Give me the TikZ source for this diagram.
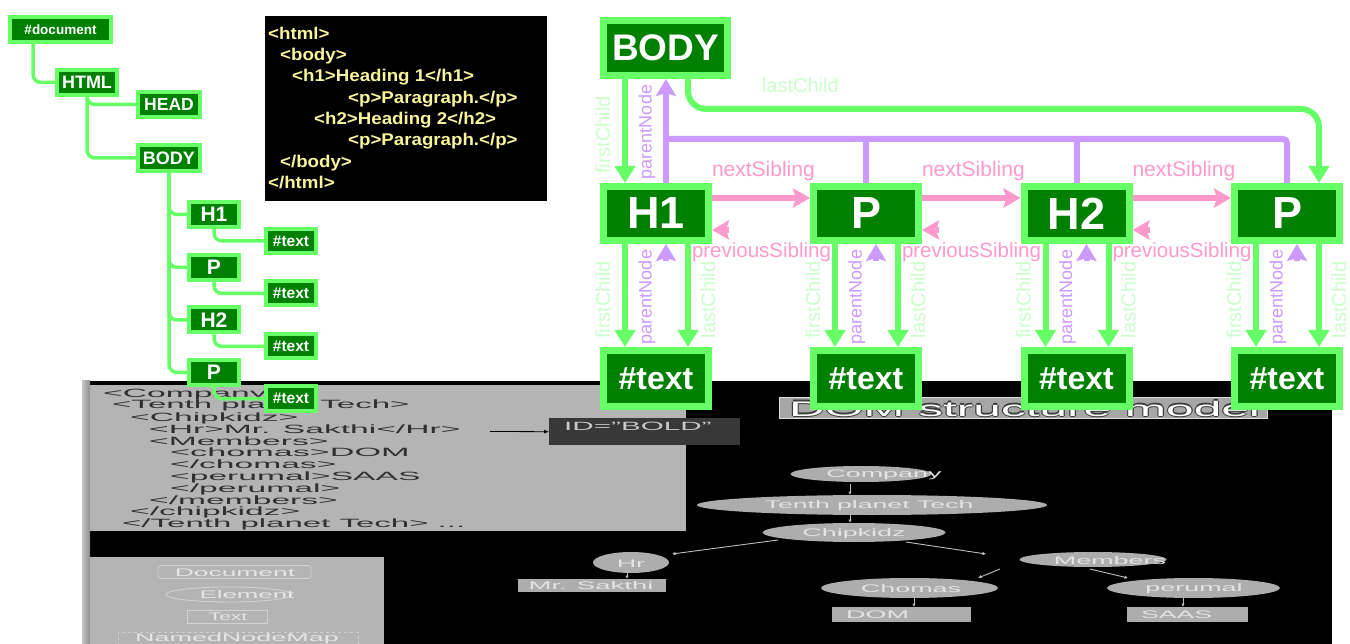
\documentclass[tikz,border=0pt]{standalone}
\usepackage{graphicx}
\usepackage{fontspec}
\setmainfont{Liberation Sans}
\usetikzlibrary{arrows.meta,shapes.geometric}
\definecolor{dg}{HTML}{008000}
\definecolor{lg}{HTML}{66FF66}
\definecolor{pg}{HTML}{CCFFCC}
\definecolor{pu}{HTML}{CC99FF}
\definecolor{pk}{HTML}{FF99CC}
\definecolor{cy}{HTML}{F8F49C}
\definecolor{pan}{HTML}{B4B4B4}
\definecolor{ctx}{HTML}{303030}
\definecolor{ellc}{HTML}{ADADAD}
\definecolor{etx}{HTML}{E4E4E4}
\definecolor{idb}{HTML}{383838}
\definecolor{idt}{HTML}{C8C8C8}
\definecolor{edgec}{HTML}{BEBEBE}
\definecolor{legc}{HTML}{D2D2D2}
\definecolor{legt}{HTML}{E6E6E6}
\definecolor{ttl}{HTML}{A6A6A6}
\definecolor{ttlo}{HTML}{3C3C3C}
\newcommand\myfs[1]{\fontsize{#1}{#1}\selectfont}
\newcommand\myx[2]{\scalebox{#1}[1]{#2}}
\begin{document}
\begin{tikzpicture}[x=1pt,y=-1pt,
  lbox/.style={draw=lg,fill=dg,line width=4pt,outer sep=2pt,inner sep=0pt,text=white,font=\bfseries\myfs{18}},
  ltxt/.style={lbox,minimum width=50pt,minimum height=24pt,font=\bfseries\myfs{15.5}},
  lsm/.style={lbox,minimum width=50pt,minimum height=25pt,font=\bfseries\myfs{21}},
  lconn/.style={draw=lg,line width=3.5pt,rounded corners=8pt},
  rbox/.style={draw=lg,fill=dg,line width=7pt,outer sep=3.5pt,inner sep=0pt,text=white,minimum width=105pt,minimum height=54pt,font=\bfseries\myfs{45}},
  rtxt/.style={rbox,minimum height=56pt,font=\bfseries\myfs{32}},
  garrow/.style={draw=lg,line width=6pt,-{Triangle[width=20pt,length=17pt]}},
  parrow/.style={draw=pu,line width=6pt,-{Stealth[width=20pt,length=17pt,inset=3pt]}},
  pline/.style={draw=pu,line width=6pt},
  karrow/.style={draw=pk,line width=6pt,-{Stealth[width=19pt,length=17pt,inset=3pt]}},
  lab/.style={inner sep=0pt,outer sep=0pt},
  ctext/.style={anchor=base west,inner sep=0pt,text=ctx,font=\myfs{12}},
  code/.style={anchor=base west,inner sep=0pt,text=cy,font=\bfseries\myfs{17}},
  ell/.style={ellipse,fill=ellc,inner sep=0pt,outer sep=0pt},
  gbox/.style={rectangle,fill=ellc,inner sep=0pt},
  etxt/.style={inner sep=0pt,text=etx,font=\myfs{11}},
  tedge/.style={draw=edgec,line width=0.9pt,-{Latex[length=3.5pt,width=3.5pt]}},
  legl/.style={draw=legc,line width=0.8pt,inner sep=0pt},
  legtx/.style={inner sep=0pt,text=legt,font=\myfs{11}},
]
\fill[white] (0,0) rectangle (1350,644);
\useasboundingbox (0,0) rectangle (1350,644);

% ---------- bottom screenshot ----------
\fill[black] (82,381) rectangle (1332,644);
\shade[left color=gray!45,right color=gray!90] (82,381) rectangle (90,644);
\fill[pan] (90,385) rectangle (686,531);
\fill[pan] (90,557) rectangle (384,644);

\node[ctext] (x1) at (103,397) {\myx{2.8}{<Company>}};
\node[ctext] (x2) at (112,409) {\myx{2.75}{<Tenth planet Tech>}};
\node[ctext] (x3) at (130,421) {\myx{2.8}{<Chipkidz>}};
\node[ctext] (x4) at (149,433) {\myx{2.8}{<Hr>Mr. Sakthi</Hr>}};
\node[ctext] (x5) at (149,445) {\myx{2.8}{<Members>}};
\node[ctext] (x6) at (170,456) {\myx{2.85}{<chomas>DOM}};
\node[ctext] (x7) at (170,468) {\myx{2.8}{</chomas>}};
\node[ctext] (x8) at (170,480) {\myx{2.8}{<perumal>SAAS}};
\node[ctext] (x9) at (170,492) {\myx{2.8}{</perumal>}};
\node[ctext] (x10) at (149,504) {\myx{2.8}{</members>}};
\node[ctext] (x11) at (130,515) {\myx{2.8}{</chipkidz>}};
\node[ctext] (x12) at (122,527) {\myx{2.75}{</Tenth planet Tech> ...}};

\node[fill=idb,minimum width=191pt,minimum height=27pt,inner sep=0pt,anchor=north west] (idbox) at (549,418) {};
\node[etxt,text=idt,font=\myfs{12},anchor=base west] (idtext) at (564,430) {\myx{2.47}{ID="BOLD"}};
\coordinate (hrend) at (490,431.5);
\draw[-{Latex[length=5pt,width=4pt]},line width=0.8pt,black] (hrend) -- (idbox.west);

% title
\node[fill=ttl,draw=gray!25,line width=0.8pt,minimum width=488pt,minimum height=21pt,inner sep=0pt] (title) at (1023,407.5) {};
\foreach \dx/\dy [count=\i] in {-1.2/0,1.2/0,0/-1.2,0/1.2}{
  \node[inner sep=0pt,text=ttlo,font=\myfs{21}] (tsh\i) at (1024.5+\dx,408.5+\dy) {\myx{2.36}{DOM structure model}};
}
\node[inner sep=0pt,text=white,font=\myfs{21}] (ttext) at (1024.5,408.5) {\myx{2.36}{DOM structure model}};

% grey tree
\node[ell,minimum width=141pt,minimum height=16pt] (ecomp) at (861,474) {};
\node[etxt] (tcomp) at (884,475) {\myx{2.45}{Company}};
\node[ell,minimum width=350pt,minimum height=20pt] (etenth) at (872,505) {};
\node[etxt] (ttenth) at (869,506) {\myx{2.42}{Tenth planet Tech}};
\node[ell,minimum width=183pt,minimum height=19pt] (echip) at (854,532.5) {};
\node[etxt] (tchip) at (854,533.5) {\myx{2.45}{Chipkidz}};
\node[ell,minimum width=147pt,minimum height=15pt] (emem) at (1093,559.5) {};
\node[etxt] (tmem) at (1110,561) {\myx{2.45}{Members}};
\node[ell,minimum width=76pt,minimum height=21pt] (ehr) at (631,562.5) {};
\node[etxt] (thr) at (631,563.5) {\myx{2.45}{Hr}};
\node[ell,minimum width=177pt,minimum height=20pt] (echo) at (909.5,588) {};
\node[etxt] (tcho) at (911,589) {\myx{2.45}{Chomas}};
\node[ell,minimum width=173pt,minimum height=20pt] (eper) at (1193.5,588) {};
\node[etxt] (tper) at (1194,589) {\myx{2.45}{perumal}};
\node[gbox,minimum width=148pt,minimum height=13pt] (bmr) at (592,585.5) {};
\node[etxt] (tmr) at (591,586) {\myx{2.5}{Mr. Sakthi}};
\node[gbox,minimum width=139pt,minimum height=15pt] (bdom) at (901.5,614.5) {};
\node[etxt,anchor=west] (tdom) at (846,615) {\myx{2.45}{DOM}};
\node[gbox,minimum width=121pt,minimum height=15pt] (bsaas) at (1187.5,614.5) {};
\node[etxt,anchor=west] (tsaas) at (1141,615) {\myx{2.42}{SAAS}};

\coordinate (c1a) at (850,484); \coordinate (c1b) at (850,495);
\coordinate (c2a) at (850,515); \coordinate (c2b) at (850,523);
\coordinate (c3a) at (778,540); \coordinate (c3b) at (672,554);
\coordinate (c4a) at (906,542); \coordinate (c4b) at (986,554);
\coordinate (c5a) at (1000,569); \coordinate (c5b) at (978,578);
\coordinate (c6a) at (1090,569); \coordinate (c6b) at (1128,578);
\coordinate (c7a) at (914,598); \coordinate (c7b) at (914,607);
\coordinate (c8a) at (1183,598); \coordinate (c8b) at (1183,607);
\coordinate (c9a) at (627,573); \coordinate (c9b) at (627,579);
\foreach \p in {1,...,9}{\draw[tedge] (c\p a) -- (c\p b);}

% legend
\node[legl,rounded corners=3pt,minimum width=153pt,minimum height=13pt] (lgdoc) at (234.5,572) {};
\node[legtx] (lgdoct) at (235,572.5) {\myx{2.4}{Document}};
\node[legl,ellipse,minimum width=126pt,minimum height=15pt] (lgel) at (229,594.5) {};
\node[legtx] (lgelt) at (247,595) {\myx{2.35}{Element}};
\node[legl,minimum width=80pt,minimum height=13pt] (lgtx) at (227,616.5) {};
\node[legtx] (lgtxt) at (228,617) {\myx{1.9}{Text}};
\draw[legc,line width=0.8pt,dashed] (118,652) rectangle (358,632);
\node[legtx] (lgnnm) at (237,639) {\myx{2.45}{NamedNodeMap}};

% ---------- code box ----------
\fill[black] (265,16) rectangle (547,201);
\node[code] (cl1) at (268,39.3) {\myx{1.1}{<html>}};
\node[code] (cl2) at (280,60.6) {\myx{1.1}{<body>}};
\node[code] (cl3) at (292,81.9) {\myx{1.1}{<h1>Heading 1</h1>}};
\node[code] (cl4) at (348,103.2) {\myx{1.1}{<p>Paragraph.</p>}};
\node[code] (cl5) at (314,124.5) {\myx{1.1}{<h2>Heading 2</h2>}};
\node[code] (cl6) at (348,145.8) {\myx{1.1}{<p>Paragraph.</p>}};
\node[code] (cl7) at (280,167.1) {\myx{1.1}{</body>}};
\node[code] (cl8) at (268,188.4) {\myx{1.1}{</html>}};

% ---------- left tree ----------
\node[lbox,minimum width=101pt,minimum height=25pt,font=\bfseries\myfs{13.5}] (ldoc) at (60.5,29.5) {\#document};
\node[lbox,minimum width=60pt,minimum height=25pt] (lhtml) at (87,82.5) {HTML};
\node[lbox,minimum width=62pt,minimum height=25pt,font=\bfseries\myfs{17.5}] (lhead) at (169,104.5) {HEAD};
\node[lbox,minimum width=62pt,minimum height=26pt] (lbody) at (169,158) {BODY};
\node[lsm] (lh1) at (214,214.5) {H1};
\node[ltxt] (lt1) at (291,241) {\#text};
\node[lsm] (lp1) at (214,267.5) {P};
\node[ltxt] (lt2) at (291,293.5) {\#text};
\node[lsm] (lh2) at (214,320) {H2};
\node[ltxt] (lt3) at (291,346.5) {\#text};
\node[lsm] (lp2) at (214,372.5) {P};
\node[ltxt] (lt4) at (291,398.5) {\#text};
\coordinate (ldocc) at ([xshift=-27.5pt]ldoc.south);
\draw[lconn] (ldocc) |- (lhtml.west);
\draw[lconn] (lhtml.south) |- (lhead.west);
\draw[lconn] (lhtml.south) |- (lbody.west);
\foreach \c in {lh1,lp1,lh2,lp2}{\draw[lconn] (lbody.south) |- (\c.west);}
\draw[lconn] (lh1.south) |- (lt1.west);
\draw[lconn] (lp1.south) |- (lt2.west);
\draw[lconn] (lh2.south) |- (lt3.west);
\draw[lconn] (lp2.south) |- (lt4.west);

% ---------- right diagram ----------
\node[rbox,minimum width=124pt,minimum height=55pt,font=\bfseries\myfs{37}] (rbody) at (665.5,48) {BODY};
\node[rbox] (rh1) at (656,213.5) {H1};
\node[rbox] (rp1) at (866,213.5) {P};
\node[rbox] (rh2) at (1076.5,213.5) {H2};
\node[rbox] (rp2) at (1287,213.5) {P};
\node[rtxt] (rt1) at (656,378.5) {\#text};
\node[rtxt] (rt2) at (866,378.5) {\#text};
\node[rtxt] (rt3) at (1076.5,378.5) {\#text};
\node[rtxt] (rt4) at (1287,378.5) {\#text};

\coordinate (fc0) at ([xshift=-31pt]rh1.north);
\draw[garrow] (fc0 |- rbody.south) -- (fc0);
\coordinate (pn0) at ([xshift=10pt]rh1.north);
\draw[parrow] (pn0) -- (pn0 |- rbody.south);
\coordinate (bus) at ([yshift=44pt]pn0);
\draw[pline,rounded corners=4pt] (bus) -| (rp2.north);
\draw[pline] (rp1.north) -- (rp1.north |- bus);
\draw[pline] (rh2.north) -- (rh2.north |- bus);
\coordinate (blc) at ([xshift=22.5pt]rbody.south);
\coordinate (p2lc) at ([xshift=32pt]rp2.north);
\draw[garrow,rounded corners=18pt] (blc) -- ++(0,30) -| (p2lc);

\foreach \bx/\tx in {rh1/rt1,rp1/rt2,rh2/rt3,rp2/rt4}{
  \draw[garrow] ([xshift=-31pt]\bx.south) -- ([xshift=-31pt]\tx.north);
  \draw[garrow] ([xshift=32pt]\bx.south) -- ([xshift=32pt]\tx.north);
  \draw[parrow] ([xshift=10pt,yshift=-17pt]\bx.south) -- ([xshift=10pt]\bx.south);
}
\foreach \ax/\cx [count=\i] in {rh1/rp1,rp1/rh2,rh2/rp2}{
  \draw[karrow] ([yshift=15.5pt]\ax.east) -- ([yshift=15.5pt]\cx.west);
  \draw[karrow] ([xshift=17pt,yshift=-16.5pt]\ax.east) -- ([yshift=-16.5pt]\ax.east);
  \node[lab,text=pk,font=\myfs{21},anchor=base west] (ns\i) at ([yshift=36.5pt]\ax.east) {nextSibling};
  \node[lab,text=pk,font=\myfs{20.5},anchor=base west] (ps\i) at ([xshift=-20pt,yshift=-44.5pt]\ax.east) {previousSibling};
}
\node[lab,text=pg,font=\myfs{20},anchor=base west] (lct) at (762,93) {lastChild};
\node[lab,text=pg,font=\myfs{20},rotate=90] (fct) at (603,135) {firstChild};
\node[lab,text=pu,font=\myfs{18},rotate=90] (pnt) at (647,132) {parentNode};
\foreach \c [count=\i] in {656,866,1076.5,1287}{
  \node[lab,text=pg,font=\myfs{20},rotate=90] (fcl\i) at (\c-53,300) {firstChild};
  \node[lab,text=pu,font=\myfs{18},rotate=90] (pnl\i) at (\c-9,297) {parentNode};
  \node[lab,text=pg,font=\myfs{20},rotate=90] (lcl\i) at (\c+52,300) {lastChild};
}
\end{tikzpicture}
\end{document}
